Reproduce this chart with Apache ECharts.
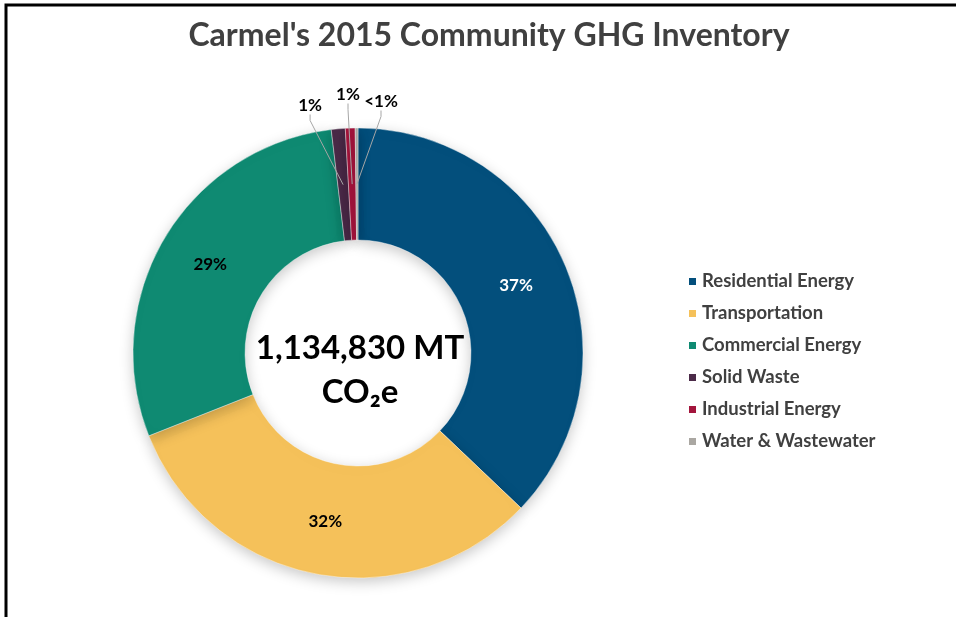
<!DOCTYPE html>
<html>
<head>
<meta charset="utf-8">
<script src="https://cdn.jsdelivr.net/npm/echarts@6/dist/echarts.min.js"></script>
<style>
  html, body { margin: 0; padding: 0; background: #fff; }
  #chart { width: 956px; height: 617px; }
</style>
</head>
<body>
<div id="chart"></div>
<script>
// share of 2015 community emissions (%)
const categories = ['Residential Energy', 'Transportation', 'Commercial Energy', 'Solid Waste', 'Industrial Energy', 'Water & Wastewater'];
const shares = [37.1, 31.9, 29.1, 1.0, 0.7, 0.2];
const colors = ['#034f7c', '#f5c15a', '#0f8a72', '#4b2a48', '#a3153c', '#aaa7a2'];
const totalLabel = '1,134,830 MT\nCO₂e';

const font = 'Lato, "Open Sans", sans-serif';
const cx = 358, cy = 353, rIn = 113, rOut = 225;

// where the leader-line labels of the thin slices sit, relative to the pie centre
const smallLabelPos = {
  3: { dx: -36, dy: -247, align: 'right' },
  4: { dx: -10, dy: -258, align: 'center' },
  5: { dx: 23, dy: -251, align: 'center' }
};

const labelFont = { fontFamily: font, fontWeight: 'bold', fontSize: 17, color: '#000' };
const fmt = p => p.value < 0.5 ? '<1%' : Math.round(p.value) + '%';

function smallLayout(p) {
  const s = smallLabelPos[p.dataIndex];
  if (!s) return {};
  return { x: cx + s.dx, y: cy + s.dy, align: s.align, verticalAlign: 'middle' };
}

const chart = echarts.init(document.getElementById('chart'));
chart.setOption({
  animation: false,
  title: [{
    text: "Carmel's 2015 Community GHG Inventory",
    left: 484, top: 15, textAlign: 'center',
    textStyle: { fontFamily: font, fontWeight: 'bold', fontSize: 32, color: '#404040' }
  }, {
    text: totalLabel,
    left: cx - 3, top: 321, textAlign: 'center',
    textStyle: { fontFamily: font, fontWeight: 'bold', fontSize: 33, lineHeight: 44, color: '#000' }
  }],
  legend: {
    orient: 'vertical', left: 682, top: 266,
    icon: 'rect', itemWidth: 9, itemHeight: 9, itemGap: 11,
    data: categories,
    textStyle: { fontFamily: font, fontWeight: 'bold', fontSize: 18.5, lineHeight: 21, color: '#404040' }
  },
  graphic: [{
    type: 'polyline', silent: true,
    shape: { points: [[6, 620], [6, 5], [956, 5]] },
    style: { stroke: '#000', lineWidth: 3, fill: null }
  }],
  series: [{
    type: 'pie', z: 2,
    center: [cx, cy], radius: [rIn, rOut],
    startAngle: 90, clockwise: true,
    avoidLabelOverlap: false,
    itemStyle: { borderColor: '#fff', borderWidth: 0.4, shadowBlur: 14, shadowColor: 'rgba(0,0,0,0.22)', shadowOffsetY: 4 },
    label: Object.assign({ position: 'inside', formatter: fmt }, labelFont),
    labelLine: { show: false },
    data: categories.map((name, i) => ({
      name: name, value: shares[i],
      itemStyle: { color: colors[i] },
      label: i === 0 ? { color: '#fff' } : { show: i < 3 }
    }))
  }, {
    // transparent inner copy on top; its leader lines reach into the middle of the ring
    type: 'pie', silent: true, z: 5,
    center: [cx, cy], radius: [rIn, (rIn + rOut) / 2],
    startAngle: 90, clockwise: true,
    avoidLabelOverlap: false,
    itemStyle: { color: 'rgba(0,0,0,0)' },
    label: Object.assign({ position: 'outside', formatter: fmt }, labelFont),
    labelLine: { show: true, length: 10, length2: 6, lineStyle: { color: '#a6a6a6', width: 1 } },
    labelLayout: smallLayout,
    data: categories.map((name, i) => ({
      name: name, value: shares[i],
      label: { show: i >= 3 },
      labelLine: { show: i >= 3 }
    }))
  }]
});
</script>
</body>
</html>
